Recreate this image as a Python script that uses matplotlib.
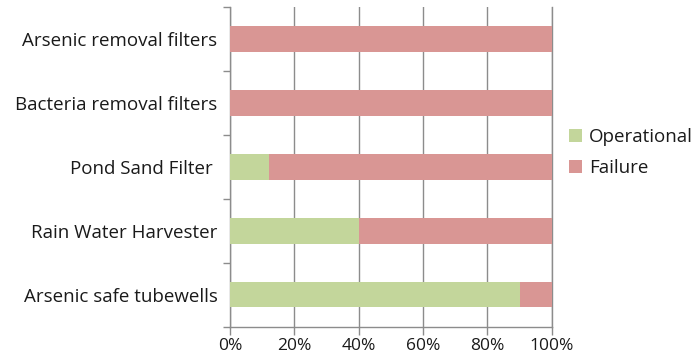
import matplotlib
matplotlib.use("Agg")
import matplotlib.pyplot as plt
from matplotlib.ticker import PercentFormatter, FixedLocator

# bottom to top
categories = ["Arsenic safe tubewells", "Rain Water Harvester", "Pond Sand Filter ",
              "Bacteria removal filters", "Arsenic removal filters"]
operational = [90, 40, 12, 0, 0]
failure = [10, 60, 88, 100, 100]

green = "#C3D69B"
red = "#D99694"
grid_gray = "#8C8C8C"
text_col = "#1a1a1a"

plt.rcParams["font.family"] = ["Open Sans", "DejaVu Sans"]

fig = plt.figure(figsize=(6.95, 3.59), dpi=100)
ax = fig.add_axes([0.331, 0.090, 0.463, 0.891])

ypos = list(range(len(categories)))
ax.barh(ypos, operational, height=0.4, color=green, label="Operational", zorder=3)
ax.barh(ypos, failure, left=operational, height=0.4, color=red, label="Failure", zorder=3)

ax.set_xlim(0, 100)
ax.set_ylim(-0.5, len(categories) - 0.5)
ax.set_xticks([0, 20, 40, 60, 80, 100])
ax.xaxis.set_major_formatter(PercentFormatter(decimals=0))
ax.grid(axis="x", color=grid_gray, linewidth=1, zorder=0)
ax.axvline(100, color=grid_gray, linewidth=1, zorder=0, clip_on=False)

ax.set_yticks(ypos)
ax.set_yticklabels(categories)
ax.yaxis.set_minor_locator(FixedLocator([y - 0.5 for y in range(len(categories) + 1)]))
ax.tick_params(axis="y", which="major", length=0, pad=9, labelsize=13.5, colors=text_col)
ax.tick_params(axis="y", which="minor", length=5, color=grid_gray, width=1)
ax.tick_params(axis="x", length=6, color=grid_gray, width=1, labelsize=12.5, colors=text_col, pad=2.5)

for side in ["top", "right"]:
    ax.spines[side].set_visible(False)
for side in ["left", "bottom"]:
    ax.spines[side].set_color(grid_gray)
    ax.spines[side].set_linewidth(1)

ax.legend(loc="center left", bbox_to_anchor=(1.0, 0.545), frameon=False,
          fontsize=13.5, handlelength=0.7, handleheight=0.7, handletextpad=0.4,
          labelspacing=0.7, labelcolor=text_col)

fig.savefig("out.png", dpi=100)
